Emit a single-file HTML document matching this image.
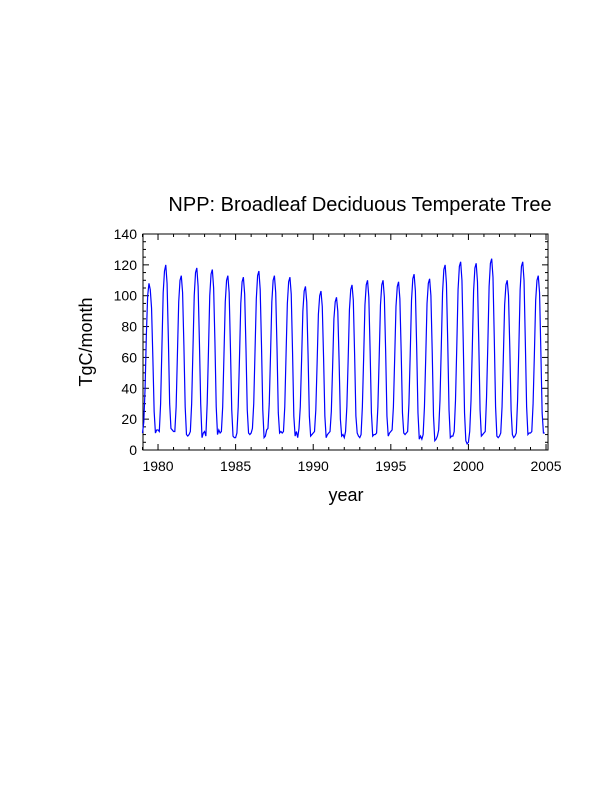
<!DOCTYPE html>
<html><head><meta charset="utf-8">
<style>
body{margin:0;background:#fff;}
svg{display:block;font-family:"Liberation Sans",Arial,sans-serif;}
</style></head>
<body>
<svg id="chart" width="612" height="792" viewBox="0 0 612 792">
<text x="360" y="211" text-anchor="middle" font-size="20">NPP: Broadleaf Deciduous Temperate Tree</text>
<text x="346" y="501" text-anchor="middle" font-size="18">year</text>
<text transform="translate(92,342) rotate(-90)" text-anchor="middle" font-size="18">TgC/month</text>
<g id="axes"></g>
<polyline id="line" fill="none" stroke="#0000ff" stroke-width="1.2"/>
</svg>
<script>
const years=[1979,1980,1981,1982,1983,1984,1985,1986,1987,1988,1989,1990,1991,1992,1993,1994,1995,1996,1997,1998,1999,2000,2001,2002,2003,2004];
const monthly=[
[11,18,40,75,100,108,104,92,60,25,11,13],
[13,12,30,66,102,116,120,108,72,30,14,13],
[12,12,28,62,96,110,113,102,68,28,10,9],
[10,12,30,65,100,115,118,106,70,30,8,11],
[12,9,30,64,100,114,117,105,70,28,10,13],
[11,12,28,62,96,110,113,102,66,26,9,8],
[8,11,28,60,95,109,112,101,66,26,11,10],
[11,14,30,64,98,113,116,104,68,26,8,9],
[13,14,30,62,96,110,113,102,66,24,11,12],
[11,12,28,62,95,109,112,101,64,22,9,12],
[8,14,28,58,90,103,106,96,62,22,9,10],
[11,12,26,56,88,100,103,93,60,22,8,10],
[11,12,25,54,85,96,99,90,58,20,9,10],
[8,12,28,58,91,104,107,97,62,22,11,9],
[8,10,28,60,94,107,110,99,64,24,9,10],
[10,11,28,60,94,107,110,99,64,22,9,11],
[12,13,28,60,93,106,109,98,64,24,11,10],
[11,12,30,62,97,111,114,103,66,24,7,9],
[7,10,28,60,95,108,111,100,64,22,6,7],
[9,13,32,66,102,117,120,108,70,26,8,9],
[9,12,32,67,104,119,122,110,70,24,6,4],
[5,12,32,66,103,118,121,109,70,26,9,10],
[11,12,34,68,106,121,124,112,72,28,9,8],
[9,11,28,60,94,107,110,100,66,26,10,8],
[9,11,32,67,104,119,122,110,70,28,10,11],
[11,12,30,62,97,110,113,102,64,24,11,11]
];
const xTicks=[1980,1985,1990,1995,2000,2005];
const yTicks=[0,20,40,60,80,100,120,140];
const L=143,R=548,T=234,B=450;
const xs=v=>142.5+(v-1979)*15.52;
const ys=v=>B-(v/140)*(B-T);
const NS="http://www.w3.org/2000/svg";
const ax=document.getElementById('axes');
function mk(tag,attrs){const e=document.createElementNS(NS,tag);for(const k in attrs)e.setAttribute(k,attrs[k]);ax.appendChild(e);return e;}
const frame=mk('rect',{x:L,y:T,width:R-L,height:B-T,fill:'none',stroke:'#000','stroke-width':1});


for(let y=1979;y<=2005;y++){
  const x=xs(y);if(x<L-0.5||x>R+0.5)continue;
  const major=xTicks.includes(y);const len=major?6:3;
  mk('line',{x1:x,x2:x,y1:B,y2:B-len,stroke:'#000'});
  mk('line',{x1:x,x2:x,y1:T,y2:T+len,stroke:'#000'});
}
xTicks.forEach(v=>{const t=mk('text',{x:xs(v),y:B+21,'text-anchor':'middle','font-size':14});t.textContent=v;

});
for(let v=0;v<=140;v+=5){
  const y=ys(v);const major=v%20===0;const len=major?6:3;
  mk('line',{x1:L,x2:L+len,y1:y,y2:y,stroke:'#000'});
  mk('line',{x1:R,x2:R-len,y1:y,y2:y,stroke:'#000'});
}
yTicks.forEach(v=>{const t=mk('text',{x:L-6,y:ys(v)+5,'text-anchor':'end','font-size':14});t.textContent=v;

});
const pts=[];
years.forEach((yr,i)=>monthly[i].forEach((v,m)=>{pts.push(xs(yr+m/12).toFixed(2)+','+ys(v).toFixed(2));}));
document.getElementById('line').setAttribute('points',pts.join(' '));
</script>
</body></html>
